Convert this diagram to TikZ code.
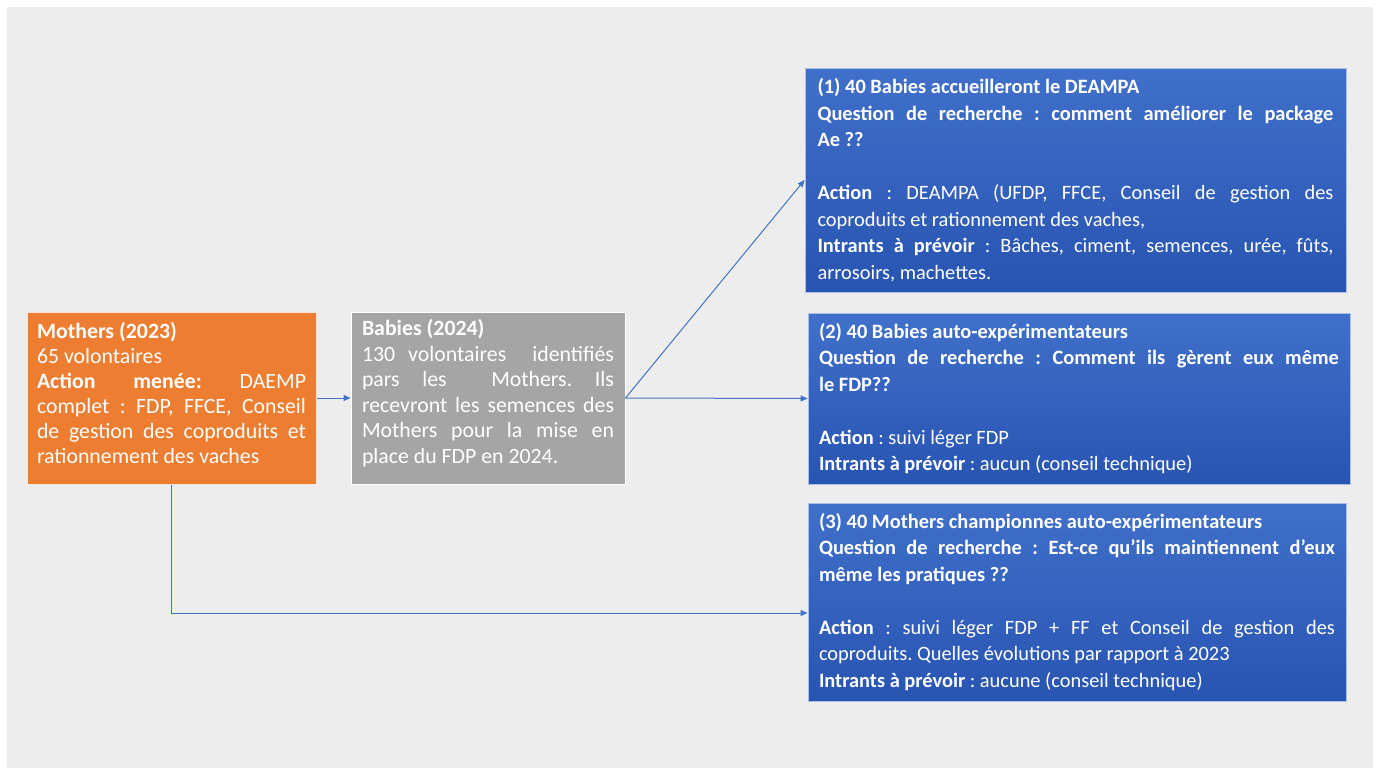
\documentclass[tikz,border=0pt]{standalone}
\usepackage{fontspec}
\setmainfont{Carlito}
\usetikzlibrary{arrows.meta}
\definecolor{bgc}{RGB}{237,237,237}
\definecolor{orng}{RGB}{237,125,49}
\definecolor{gbox}{RGB}{165,165,165}
\definecolor{btop}{RGB}{64,112,202}
\definecolor{bbot}{RGB}{40,84,178}
\definecolor{arr}{RGB}{68,114,196}
\setlength{\parindent}{0pt}
\setlength{\parskip}{0pt}
\hyphenpenalty=10000
\exhyphenpenalty=10000
\frenchspacing
\tikzset{
  box/.style={line width=1pt, text=white, align=justify, inner ysep=4pt, anchor=center},
  obox/.style={box, draw=white!80!orng, fill=orng, font=\fontsize{21.8}{25}\selectfont\frenchspacing},
  gybox/.style={box, draw=white, fill=gbox, font=\fontsize{21.8}{25.5}\selectfont\frenchspacing},
  bbox/.style={box, draw=white!55!btop, line width=0.8pt, top color=btop, bottom color=bbot, font=\fontsize{20.4}{26.5}\selectfont\frenchspacing},
  conn/.style={draw=arr, line width=1pt, -{Triangle[length=7pt,width=6pt]}}
}
\begin{document}
\begin{tikzpicture}[x=1pt,y=-1pt]
\fill[white] (0,0) rectangle (1378,771);
\fill[bgc] (7,7) rectangle (1373,768);
\node[obox, minimum width=289, minimum height=172, inner xsep=10pt, text width=269] (m) at (171.5,398) {%
\textbf{Mothers (2023)}\par
65 volontaires\par
\textbf{Action menée:} DAEMP\linebreak complet : FDP, FFCE, Conseil\linebreak de gestion des coproduits et\linebreak rationnement des vaches\par\vspace{10pt}};
\node[gybox, minimum width=274, minimum height=172, inner xsep=11pt, text width=252] (b) at (488,398) {%
\textbf{Babies (2024)}\par
130 volontaires\ \ identifiés\linebreak pars les\quad\ Mothers. Ils\linebreak recevront les semences des\linebreak Mothers pour la mise en\linebreak place du FDP en 2024.\par\vspace{10pt}};
\node[bbox, minimum width=541, minimum height=224, inner xsep=12.5pt, text width=516] (b1) at (1075.5,180) {%
\textbf{(1) 40 Babies accueilleront le DEAMPA}\par
\textbf{Question de recherche : comment améliorer le package\linebreak Ae ??}\par
\mbox{}\par
\textbf{Action} : DEAMPA (UFDP, FFCE, Conseil de gestion des\linebreak coproduits et rationnement des vaches,\par
\textbf{Intrants à prévoir} :\ Bâches, ciment, semences, urée, fûts,\linebreak arrosoirs, machettes.};
\node[bbox, minimum width=542, minimum height=171, inner xsep=11pt, text width=520] (b2) at (1079,398.5) {%
\textbf{(2) 40 Babies auto-expérimentateurs}\par
\textbf{Question de recherche : Comment ils gèrent eux même\linebreak le FDP??}\par
\mbox{}\par
\textbf{Action} : suivi léger FDP\par
\textbf{Intrants à prévoir} : aucun (conseil technique)};
\node[bbox, minimum width=538, minimum height=198, inner xsep=11pt, text width=516] (b3) at (1077,602) {%
\textbf{(3) 40 Mothers championnes auto-expérimentateurs}\par
\textbf{Question de recherche : Est-ce qu’ils maintiennent d’eux\linebreak même les pratiques ??}\par
\mbox{}\par
\textbf{Action} : suivi léger FDP + FF et Conseil de gestion des\linebreak coproduits. Quelles évolutions par rapport à 2023\par
\textbf{Intrants à prévoir} : aucune (conseil technique)};
\coordinate (b3in) at ([yshift=-11pt]b3.west);
\draw[conn] (m) -- (b);
\draw[conn] (b.east) -- (b1.west);
\draw[conn] (b.east) -- (b2.west);
\draw[conn] (m.south) |- (b3in);
\end{tikzpicture}
\end{document}
